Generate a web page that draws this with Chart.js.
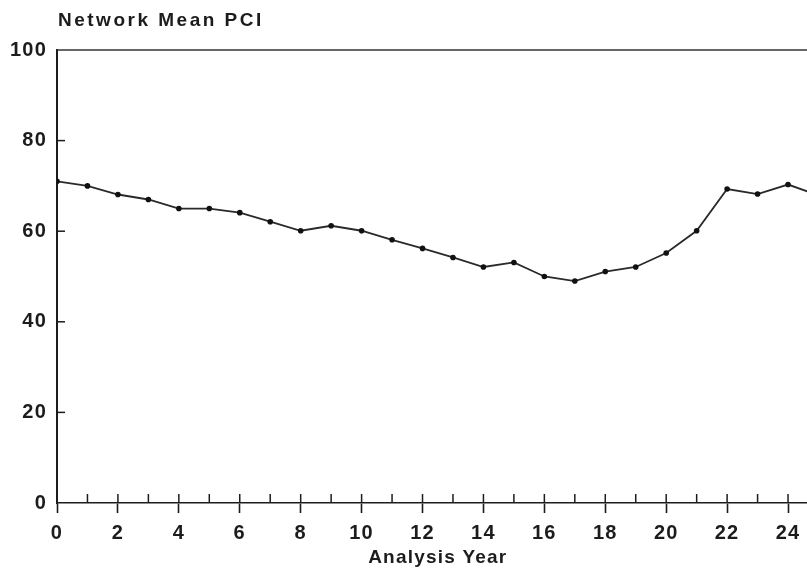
<!DOCTYPE html>
<html>
<head>
<meta charset="utf-8">
<script src="https://cdn.jsdelivr.net/npm/chart.js@4.4.1/dist/chart.umd.min.js"></script>
<style>
  html, body { margin: 0; padding: 0; background: #fff; overflow: hidden; }
  #wrap { width: 807px; height: 575px; overflow: hidden; position: relative; }
  canvas { display: block; }
</style>
</head>
<body>
<div id="wrap"><canvas id="c" width="830" height="575"></canvas></div>
<script>
// ---- data ----
const chartTitle = "Network Mean PCI";
const xAxisTitle = "Analysis Year";
const years = [0,1,2,3,4,5,6,7,8,9,10,11,12,13,14,15,16,17,18,19,20,21,22,23,24,25];
const meanPCI = [71,70,68.1,67,65,65,64.1,62.1,60.1,61.2,60.1,58.1,56.2,54.2,52.1,53.1,50,49,51.1,52.1,55.2,60.1,69.3,68.2,70.3,67.9];
const yMin = 0, yMax = 100, yStep = 20;
const xMin = 0, xMax = 25, xLabelStep = 2;

const INK = '#1c1c1c';
const LINE = '#2a2a2a';
const FONT = '"Liberation Sans", Arial, Helvetica, sans-serif';

const points = years.map((y, i) => ({ x: y, y: meanPCI[i] }));

const decor = {
  id: 'decor',
  beforeDraw(chart) {
    chart.ctx.letterSpacing = '1.2px';
  },
  afterDraw(chart) {
    const ctx = chart.ctx;
    const a = chart.chartArea;
    const xs = chart.scales.x, ys = chart.scales.y;
    ctx.save();
    ctx.strokeStyle = INK;
    // top border
    ctx.lineWidth = 1.6;
    ctx.strokeStyle = '#333';
    ctx.beginPath();
    ctx.moveTo(a.left, a.top);
    ctx.lineTo(a.right, a.top);
    ctx.stroke();
    ctx.strokeStyle = INK;
    // inside ticks on x axis
    ctx.lineWidth = 1.5;
    for (let v = xMin; v <= xMax; v++) {
      const px = xs.getPixelForValue(v);
      ctx.beginPath();
      ctx.moveTo(px, a.bottom);
      ctx.lineTo(px, a.bottom - 9);
      ctx.stroke();
    }
    // inside ticks on y axis
    for (let v = yMin + yStep; v < yMax; v += yStep) {
      const py = ys.getPixelForValue(v);
      ctx.beginPath();
      ctx.moveTo(a.left, py);
      ctx.lineTo(a.left + 8, py);
      ctx.stroke();
    }
    // chart title
    ctx.letterSpacing = '2.5px';
    ctx.fillStyle = INK;
    ctx.font = 'bold 19px ' + FONT;
    ctx.textAlign = 'left';
    ctx.textBaseline = 'alphabetic';
    ctx.fillText(chartTitle, a.left + 1, 26);
    ctx.restore();
  }
};

new Chart(document.getElementById('c'), {
  type: 'line',
  data: {
    datasets: [{
      data: points,
      borderColor: LINE,
      borderWidth: 1.8,
      pointRadius: 2.8,
      pointBackgroundColor: '#111',
      pointBorderColor: '#111',
      pointBorderWidth: 0,
      tension: 0,
      fill: false
    }]
  },
  options: {
    responsive: false,
    animation: false,
    devicePixelRatio: 1,
    layout: { padding: { top: 50, right: 11.5, bottom: 0, left: 0 } },
    plugins: { legend: { display: false }, tooltip: { enabled: false }, title: { display: false } },
    scales: {
      x: {
        type: 'linear',
        min: xMin, max: xMax,
        afterFit(s) { s.height = 72; },
        border: { display: true, color: INK, width: 1.6 },
        grid: {
          drawOnChartArea: false,
          drawTicks: true,
          tickLength: 10,
          tickWidth: 1.6,
          tickColor: (ctx) => (ctx.tick && ctx.tick.value % xLabelStep === 0) ? INK : 'rgba(0,0,0,0)'
        },
        ticks: {
          stepSize: 1,
          autoSkip: false,
          maxRotation: 0,
          padding: 8,
          color: INK,
          font: { family: FONT, size: 20, weight: 'bold' },
          callback: (v) => (v % xLabelStep === 0 && v <= 24) ? String(v) : ''
        },
        title: {
          display: true,
          text: xAxisTitle,
          color: INK,
          font: { family: FONT, size: 19, weight: 'bold' },
          padding: { top: 0, bottom: 6 }
        }
      },
      y: {
        min: yMin, max: yMax,
        afterFit(s) { s.width = 57; },
        border: { display: true, color: INK, width: 2 },
        grid: { drawOnChartArea: false, drawTicks: false },
        ticks: {
          stepSize: yStep,
          padding: 10,
          color: INK,
          font: { family: FONT, size: 20, weight: 'bold' }
        }
      }
    }
  },
  plugins: [decor]
});
</script>
</body>
</html>
